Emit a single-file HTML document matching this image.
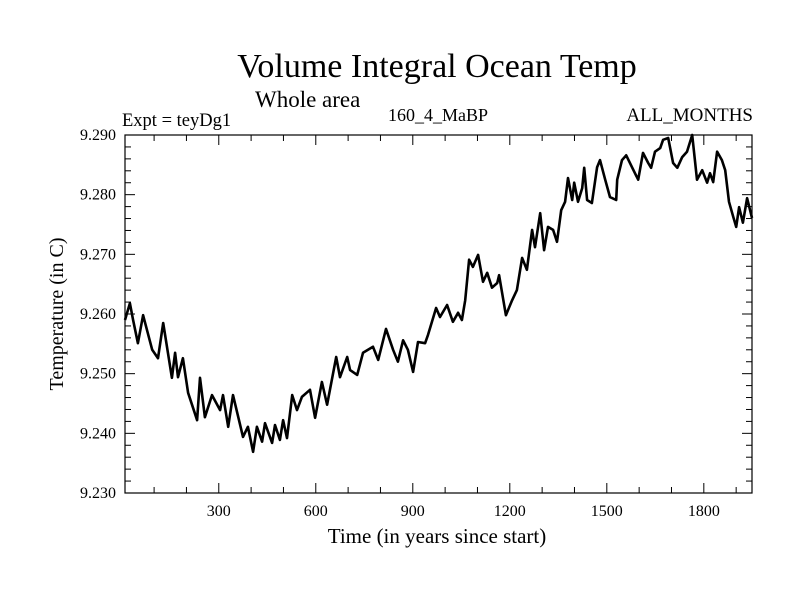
<!DOCTYPE html>
<html><head><meta charset="utf-8"><style>
body{margin:0;background:#fff;}
svg{display:block;font-family:"Liberation Serif",serif;}
</style></head><body>
<svg id="chart" width="800" height="600" xmlns="http://www.w3.org/2000/svg">
<text x="437" y="77" font-size="34" text-anchor="middle">Volume Integral Ocean Temp</text>
<text x="255" y="107" font-size="23">Whole area</text>
<text x="122" y="126" font-size="18.5">Expt = teyDg1</text>
<text x="438" y="121" font-size="18" text-anchor="middle">160_4_MaBP</text>
<text x="753" y="121" font-size="19" text-anchor="end">ALL_MONTHS</text>
<text x="437" y="543" font-size="21" text-anchor="middle">Time (in years since start)</text>
<text transform="translate(63,314) rotate(-90)" font-size="20" text-anchor="middle">Temperature (in C)</text>
<g id="axes"></g>
<g id="series"></g>
</svg>
<script>
const years=[10,25,35,50,66,78,94,112,128,155,165,174,189,205,233,242,257,279,304,313,329,344,375,390,406,418,434,443,465,474,489,499,511,527,542,557,582,598,619,635,663,675,697,706,728,746,777,793,817,839,854,870,885,901,916,938,947,972,984,1006,1024,1040,1052,1062,1074,1086,1102,1117,1130,1145,1161,1167,1188,1207,1222,1238,1253,1269,1278,1294,1306,1318,1334,1346,1359,1371,1380,1393,1399,1411,1424,1430,1439,1454,1470,1479,1495,1510,1529,1532,1547,1560,1578,1597,1612,1628,1637,1649,1665,1674,1690,1705,1718,1733,1748,1764,1779,1795,1810,1819,1829,1841,1856,1866,1878,1891,1900,1909,1921,1934,1949];
const temps=[9.2590,9.2618,9.2590,9.2551,9.2598,9.2573,9.2540,9.2526,9.2585,9.2493,9.2535,9.2494,9.2526,9.2468,9.2422,9.2493,9.2427,9.2464,9.2439,9.2464,9.2411,9.2464,9.2394,9.2411,9.2369,9.2411,9.2386,9.2417,9.2384,9.2414,9.2389,9.2422,9.2392,9.2464,9.2439,9.2461,9.2473,9.2426,9.2486,9.2448,9.2528,9.2494,9.2528,9.2506,9.2498,9.2535,9.2545,9.2523,9.2575,9.2540,9.2520,9.2556,9.2540,9.2503,9.2553,9.2551,9.2565,9.2610,9.2595,9.2615,9.2587,9.2602,9.2590,9.2623,9.2691,9.2679,9.2699,9.2654,9.2669,9.2644,9.2652,9.2665,9.2598,9.2623,9.2640,9.2694,9.2674,9.2741,9.2712,9.2769,9.2707,9.2746,9.2741,9.2721,9.2774,9.2788,9.2828,9.2791,9.2820,9.2788,9.2811,9.2845,9.2791,9.2786,9.2846,9.2858,9.2825,9.2796,9.2791,9.2825,9.2858,9.2866,9.2846,9.2825,9.2870,9.2853,9.2845,9.2872,9.2878,9.2892,9.2895,9.2853,9.2845,9.2863,9.2872,9.2900,9.2825,9.2841,9.2820,9.2836,9.2821,9.2872,9.2858,9.2841,9.2788,9.2763,9.2746,9.2779,9.2753,9.2794,9.2761];
const xTicks=[300,600,900,1200,1500,1800];
const yTicks=[9.230,9.240,9.250,9.260,9.270,9.280,9.290];
const yTickLabels=["9.230","9.240","9.250","9.260","9.270","9.280","9.290"];

const L=125,R=752,T=135,B=493,X0=10,X1=1949,Y0=9.230,Y1=9.290;
const xs=v=>L+(v-X0)/(X1-X0)*(R-L);
const ys=v=>B-(v-Y0)/(Y1-Y0)*(B-T);
const NS="http://www.w3.org/2000/svg";
const axes=document.getElementById('axes');
function mk(tag,attrs,parent){const e=document.createElementNS(NS,tag);for(const k in attrs)e.setAttribute(k,attrs[k]);parent.appendChild(e);return e;}
const frame=mk('rect',{x:L,y:T,width:R-L,height:B-T,fill:'none',stroke:'#000','stroke-width':1.2},axes);


for(let v=100;v<=X1;v+=100){
  const major=v%300===0, len=major?10:6, x=xs(v);
  const t1=mk('line',{x1:x,x2:x,y1:B,y2:B-len,stroke:'#000'},axes);
  
  
  const t2=mk('line',{x1:x,x2:x,y1:T,y2:T+len,stroke:'#000'},axes);
  
  
}
xTicks.forEach(v=>{
  const t=mk('text',{x:xs(v),y:516,'font-size':16,'text-anchor':'middle'},axes);
  t.textContent=v;
  
  
});
for(let i=0;i<=30;i++){
  const v=Y0+i*0.002, major=i%5===0, len=major?10:6, y=ys(v);
  const t1=mk('line',{x1:L,x2:L+len,y1:y,y2:y,stroke:'#000'},axes);
  
  
  const t2=mk('line',{x1:R,x2:R-len,y1:y,y2:y,stroke:'#000'},axes);
  
  
}
yTicks.forEach((v,i)=>{
  const t=mk('text',{x:116,y:ys(v)+5,'font-size':16,'text-anchor':'end'},axes);
  t.textContent=yTickLabels[i];
  
  
});
const d=years.map((y,i)=>(i?'L':'M')+xs(y).toFixed(1)+','+ys(temps[i]).toFixed(1)).join('');
const line=mk('path',{d:d,fill:'none',stroke:'#000','stroke-width':2.6,'stroke-linejoin':'round'},document.getElementById('series'));


</script>
</body></html>
